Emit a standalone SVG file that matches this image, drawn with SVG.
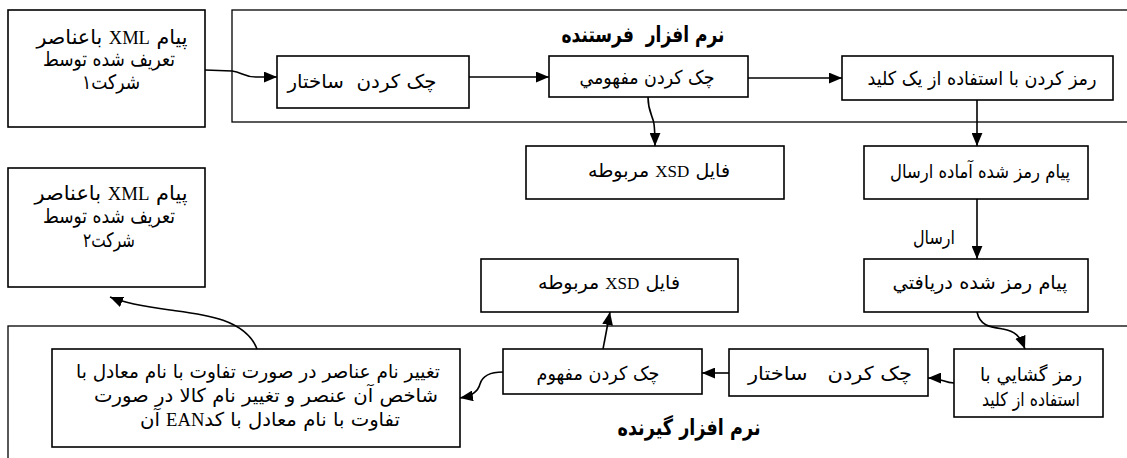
<svg xmlns="http://www.w3.org/2000/svg" width="1127" height="458" viewBox="0 0 1127 458">
<defs>
<style>
.box{fill:#fff;stroke:#000;stroke-width:1.6}
.cont{fill:#fff;stroke:#000;stroke-width:1.3}
.t{font-family:"DejaVu Sans","Liberation Sans",sans-serif;font-size:19px;fill:#000;direction:rtl;unicode-bidi:embed;text-anchor:middle;white-space:pre}
.tc{font-size:20px}
.lat{font-family:"Liberation Serif",serif}
.ttl{font-family:"DejaVu Sans","Liberation Sans",sans-serif;font-size:22px;font-weight:bold;fill:#000;direction:rtl;unicode-bidi:embed;text-anchor:middle;white-space:pre}
.c{fill:none;stroke:#000;stroke-width:1.6}
</style>
<marker id="ah" viewBox="0 0 12 10" refX="12" refY="5" markerWidth="13" markerHeight="11" markerUnits="userSpaceOnUse" orient="auto">
<path d="M0,0 L12,5 L0,10 Z" fill="#000"/>
</marker>
</defs>
<rect width="1127" height="458" fill="#fff"/>

<g id="sender-container">
<rect class="cont" x="232" y="10" width="900" height="112"/>
<text class="ttl" x="643" y="42" textLength="163" lengthAdjust="spacingAndGlyphs">نرم افزار  فرستنده</text>
</g>
<g id="receiver-container">
<rect class="cont" x="8" y="326" width="1130" height="140"/>
<text class="ttl" x="689" y="435" textLength="143" lengthAdjust="spacingAndGlyphs">نرم افزار گيرنده</text>
</g>

<g id="company1">
<rect class="box" x="8" y="10" width="197" height="117"/>
<text class="t tc" x="112" y="44" textLength="151" lengthAdjust="spacingAndGlyphs">پیام <tspan class="lat" font-size="18">XML</tspan> باعناصر</text>
<text class="t tc" x="109" y="66" textLength="132" lengthAdjust="spacingAndGlyphs">تعریف شده توسط</text>
<text class="t tc" x="111" y="89" textLength="58" lengthAdjust="spacingAndGlyphs">شرکت۱</text>
</g>

<g id="check-structure-1">
<rect class="box" x="277" y="56" width="192" height="52"/>
<text class="t" x="362" y="88" textLength="149" lengthAdjust="spacingAndGlyphs">چک کردن  ساختار</text>
</g>

<g id="check-semantic-1">
<rect class="box" x="549" y="56" width="199" height="41"/>
<text class="t" x="647" y="84" textLength="135" lengthAdjust="spacingAndGlyphs">چک کردن مفهومي</text>
</g>

<g id="encrypt">
<rect class="box" x="842" y="56" width="271" height="44"/>
<text class="t" x="982" y="85" textLength="229" lengthAdjust="spacingAndGlyphs">رمز کردن با استفاده از یک کلید</text>
</g>

<g id="xsd-1">
<rect class="box" x="526" y="146" width="258" height="53"/>
<text class="t" x="659" y="177" textLength="142" lengthAdjust="spacingAndGlyphs">فایل <tspan class="lat" font-size="17">XSD</tspan> مربوطه</text>
</g>

<g id="encrypted-ready">
<rect class="box" x="864" y="146" width="224" height="53"/>
<text class="t" x="980" y="178" textLength="180" lengthAdjust="spacingAndGlyphs">پیام رمز شده آماده ارسال</text>
</g>

<g id="company2">
<rect class="box" x="8" y="168" width="197" height="119"/>
<text class="t tc" x="111" y="200" textLength="153" lengthAdjust="spacingAndGlyphs">پیام <tspan class="lat" font-size="18">XML</tspan> باعناصر</text>
<text class="t tc" x="109" y="223" textLength="132" lengthAdjust="spacingAndGlyphs">تعریف شده توسط</text>
<text class="t tc" x="109" y="247" textLength="52" lengthAdjust="spacingAndGlyphs">شرکت۲</text>
</g>

<g id="xsd-2">
<rect class="box" x="481" y="259" width="257" height="53"/>
<text class="t" x="609" y="289" textLength="142" lengthAdjust="spacingAndGlyphs">فایل <tspan class="lat" font-size="17">XSD</tspan> مربوطه</text>
</g>

<g id="encrypted-received">
<rect class="box" x="864" y="259" width="224" height="53"/>
<text class="t" x="980" y="289" textLength="175" lengthAdjust="spacingAndGlyphs">پیام رمز شده دريافتي</text>
</g>

<g id="decrypt">
<rect class="box" x="954" y="349" width="149" height="68"/>
<text class="t" x="1031" y="381" textLength="102" lengthAdjust="spacingAndGlyphs">رمز گشايي با</text>
<text class="t" x="1031" y="406" textLength="98" lengthAdjust="spacingAndGlyphs">استفاده از کلید</text>
</g>

<g id="check-structure-2">
<rect class="box" x="729" y="349" width="199" height="47"/>
<text class="t" x="830" y="380" textLength="164" lengthAdjust="spacingAndGlyphs">چک کردن   ساختار</text>
</g>

<g id="check-semantic-2">
<rect class="box" x="503" y="349" width="199" height="45"/>
<text class="t" x="598" y="380" textLength="123" lengthAdjust="spacingAndGlyphs">چک کردن مفهوم</text>
</g>

<g id="rename">
<rect class="box" x="52" y="349" width="408" height="98"/>
<text class="t" x="258" y="378" textLength="364" lengthAdjust="spacingAndGlyphs">تغيير نام عناصر در صورت تفاوت با نام معادل با</text>
<text class="t" x="266" y="402" textLength="344" lengthAdjust="spacingAndGlyphs">شاخص آن عنصر و تغيير نام کالا در صورت</text>
<text class="t" x="270" y="426" textLength="260" lengthAdjust="spacingAndGlyphs">تفاوت با نام معادل با کد<tspan class="lat" font-size="18">EAN</tspan> آن</text>
</g>

<g id="label-send">
<text class="t" x="934" y="244" textLength="42" lengthAdjust="spacingAndGlyphs">ارسال</text>
</g>

<g id="connectors">
<path class="c" marker-end="url(#ah)" d="M205,70 L232,71 C242,72 244,77 256,77 L277,77"/>
<path class="c" marker-end="url(#ah)" d="M469,77 L549,77"/>
<path class="c" marker-end="url(#ah)" d="M748,78 L842,78"/>
<path class="c" marker-end="url(#ah)" d="M648,97 C648,112 653,116 654,124 C655,132 655,138 655,146"/>
<path class="c" marker-end="url(#ah)" d="M977,100 L977,146"/>
<path class="c" marker-end="url(#ah)" d="M977,199 L977,259"/>
<path class="c" marker-end="url(#ah)" d="M977,312 C980,326 990,327 1003,329 C1015,331 1020,336 1025,349"/>
<path class="c" marker-end="url(#ah)" d="M954,383 C944,383 942,378 928,378"/>
<path class="c" marker-end="url(#ah)" d="M729,373 L702,373"/>
<path class="c" marker-end="url(#ah)" d="M603,349 L610,312"/>
<path class="c" marker-end="url(#ah)" d="M503,372 C488,372 482,377 480,384 C478,392 472,396 460,398"/>
<path class="c" marker-end="url(#ah)" d="M257,349 C245,318 200,314 170,310 C140,306 122,302 110,297"/>
</g>
</svg>
